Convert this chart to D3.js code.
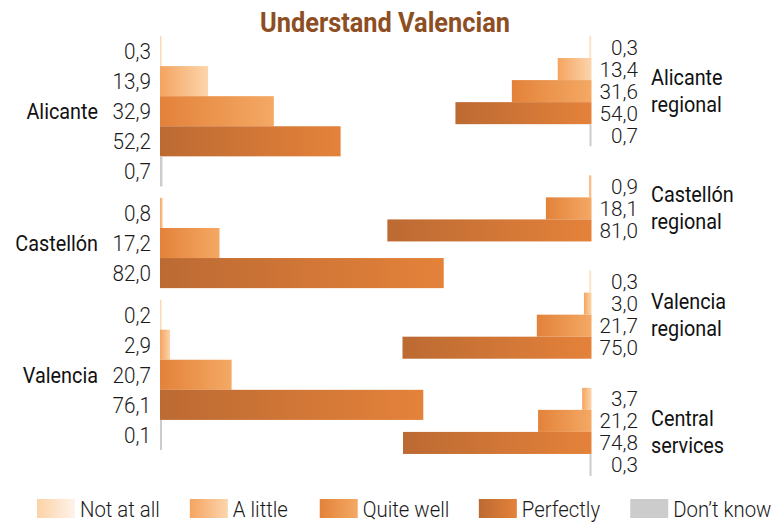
<!DOCTYPE html>
<html>
<head>
<meta charset="utf-8">
<script src="https://cdn.jsdelivr.net/npm/d3@7"></script>
<style>
  html, body { margin: 0; padding: 0; background: #ffffff; }
  svg { display: block; }
  text { font-family: Roboto, "Noto Sans", sans-serif; }
</style>
</head>
<body>
<script>
// ---------- DATA ----------
const title = "Understand Valencian";
const seriesNames = ["Not at all", "A little", "Quite well", "Perfectly", "Don\u2019t know"];

const leftCategories = ["Alicante", "Castellón", "Valencia"];
const leftNotAtAll  = [0.3, null, 0.2];
const leftALittle   = [13.9, 0.8, 2.9];
const leftQuiteWell = [32.9, 17.2, 20.7];
const leftPerfectly = [52.2, 82.0, 76.1];
const leftDontKnow  = [0.7, null, 0.1];

const rightCategories = [["Alicante", "regional"], ["Castellón", "regional"], ["Valencia", "regional"], ["Central", "services"]];
const rightNotAtAll  = [0.3, null, 0.3, null];
const rightALittle   = [13.4, 0.9, 3.0, 3.7];
const rightQuiteWell = [31.6, 18.1, 21.7, 21.2];
const rightPerfectly = [54.0, 81.0, 75.0, 74.8];
const rightDontKnow  = [0.7, null, null, 0.3];

// ---------- STYLE ----------
const W = 783, H = 525;
const gradStops = [
  ["#fcd2a6", "#fef3ea"],
  ["#f4a460", "#fcd5ac"],
  ["#e3823a", "#f4a964"],
  ["#bc6a33", "#e4823a"],
  ["#cccccc", "#cccccc"]
];
const VAL_CONDENSE = 0.94;
const CAT_CONDENSE = 0.9;
const LEG_CONDENSE = 0.925;
const fmt = v => d3.format(".1f")(v).replace(".", ",");

const svg = d3.select("body").append("svg").attr("width", W).attr("height", H);
const defs = svg.append("defs");
gradStops.forEach((s, i) => {
  const g = defs.append("linearGradient").attr("id", "g" + i)
    .attr("x1", 0).attr("x2", 1).attr("y1", 0).attr("y2", 0);
  g.append("stop").attr("offset", "0%").attr("stop-color", s[0]);
  g.append("stop").attr("offset", "100%").attr("stop-color", s[1]);
});

function condense(sel, f) {
  sel.each(function () {
    const L = this.getComputedTextLength();
    d3.select(this).attr("textLength", L * f).attr("lengthAdjust", "spacingAndGlyphs");
  });
}

// flatten rows
function buildRows(cats, arrays, gap) {
  const rows = [], groups = [];
  let slot = 0;
  cats.forEach((c, ci) => {
    if (ci > 0) slot += gap;
    const start = slot;
    arrays.forEach((arr, si) => {
      const v = arr[ci];
      if (v !== null && v !== undefined) {
        rows.push({ cat: c, ci, si, value: v, slot });
        slot += 1;
      }
    });
    groups.push({ cat: c, start, end: slot });
  });
  return { rows, groups, total: slot };
}

// ---------- TITLE ----------
const t = svg.append("text").attr("x", 385).attr("y", 32)
  .attr("text-anchor", "middle").attr("font-size", 28).attr("font-weight", 700)
  .attr("fill", "#8e4e24").text(title);
condense(t, 0.905);

// ---------- LEFT PANEL ----------
const L = buildRows(leftCategories, [leftNotAtAll, leftALittle, leftQuiteWell, leftPerfectly, leftDontKnow], 0.38);
const xL = d3.scaleLinear().domain([0, 100]).range([160, 506]);
const yL = d3.scaleLinear().domain([0, L.total]).range([36, 450]);

const gL = svg.append("g");
gL.selectAll("rect").data(L.rows).join("rect")
  .attr("x", xL(0))
  .attr("y", d => yL(d.slot))
  .attr("height", d => yL(d.slot + 1) - yL(d.slot))
  .attr("width", d => Math.max(xL(d.value) - xL(0), 2))
  .attr("fill", d => `url(#g${d.si})`);

const lv = gL.selectAll("text.val").data(L.rows).join("text").attr("class", "val")
  .attr("x", 151).attr("y", d => (yL(d.slot) + yL(d.slot + 1)) / 2 + 8)
  .attr("text-anchor", "end").attr("font-size", 22).attr("font-weight", 300)
  .attr("fill", "#1a1a1a").text(d => fmt(d.value));
condense(lv, VAL_CONDENSE);

const lc = gL.selectAll("text.cat").data(L.groups).join("text").attr("class", "cat")
  .attr("x", 98).attr("y", d => (yL(d.start) + yL(d.end)) / 2 + 8)
  .attr("text-anchor", "end").attr("font-size", 22).attr("font-weight", 400)
  .attr("fill", "#111").text(d => d.cat);
condense(lc, CAT_CONDENSE);

// ---------- RIGHT PANEL ----------
const R = buildRows(rightCategories, [rightNotAtAll, rightALittle, rightQuiteWell, rightPerfectly, rightDontKnow], 1.32);
const xR = d3.scaleLinear().domain([0, 100]).range([591.5, 339.5]);
const yR = d3.scaleLinear().domain([0, R.total]).range([36, 476]);

const gR = svg.append("g");
gR.selectAll("rect").data(R.rows).join("rect")
  .attr("x", d => Math.min(xR(d.value), xR(0) - 2))
  .attr("y", d => yR(d.slot))
  .attr("height", d => yR(d.slot + 1) - yR(d.slot))
  .attr("width", d => Math.max(xR(0) - xR(d.value), 2))
  .attr("fill", d => `url(#g${d.si})`);

const rv = gR.selectAll("text.val").data(R.rows).join("text").attr("class", "val")
  .attr("x", 638).attr("y", d => (yR(d.slot) + yR(d.slot + 1)) / 2 + 7.5)
  .attr("text-anchor", "end").attr("font-size", 21).attr("font-weight", 300)
  .attr("fill", "#1a1a1a").text(d => fmt(d.value));
condense(rv, 0.985);

R.groups.forEach(gr => {
  const cy = (yR(gr.start) + yR(gr.end)) / 2;
  gr.cat.forEach((line, li) => {
    const tx = gR.append("text").attr("x", 651).attr("y", cy - 6 + li * 27)
      .attr("font-size", 22).attr("font-weight", 400).attr("fill", "#111").text(line);
    condense(tx, CAT_CONDENSE);
  });
});

// ---------- LEGEND ----------
const leg = svg.append("g");
let lx = 37;
seriesNames.forEach((name, i) => {
  leg.append("rect").attr("x", lx).attr("y", 499).attr("width", 38).attr("height", 19)
    .attr("fill", `url(#g${i})`);
  const tx = leg.append("text").attr("x", lx + 43).attr("y", 517)
    .attr("font-size", 22).attr("font-weight", 300).attr("fill", "#1a1a1a").text(name);
  condense(tx, LEG_CONDENSE);
  lx = lx + 43 + tx.node().getComputedTextLength() * LEG_CONDENSE + 36;
});
</script>
</body>
</html>
